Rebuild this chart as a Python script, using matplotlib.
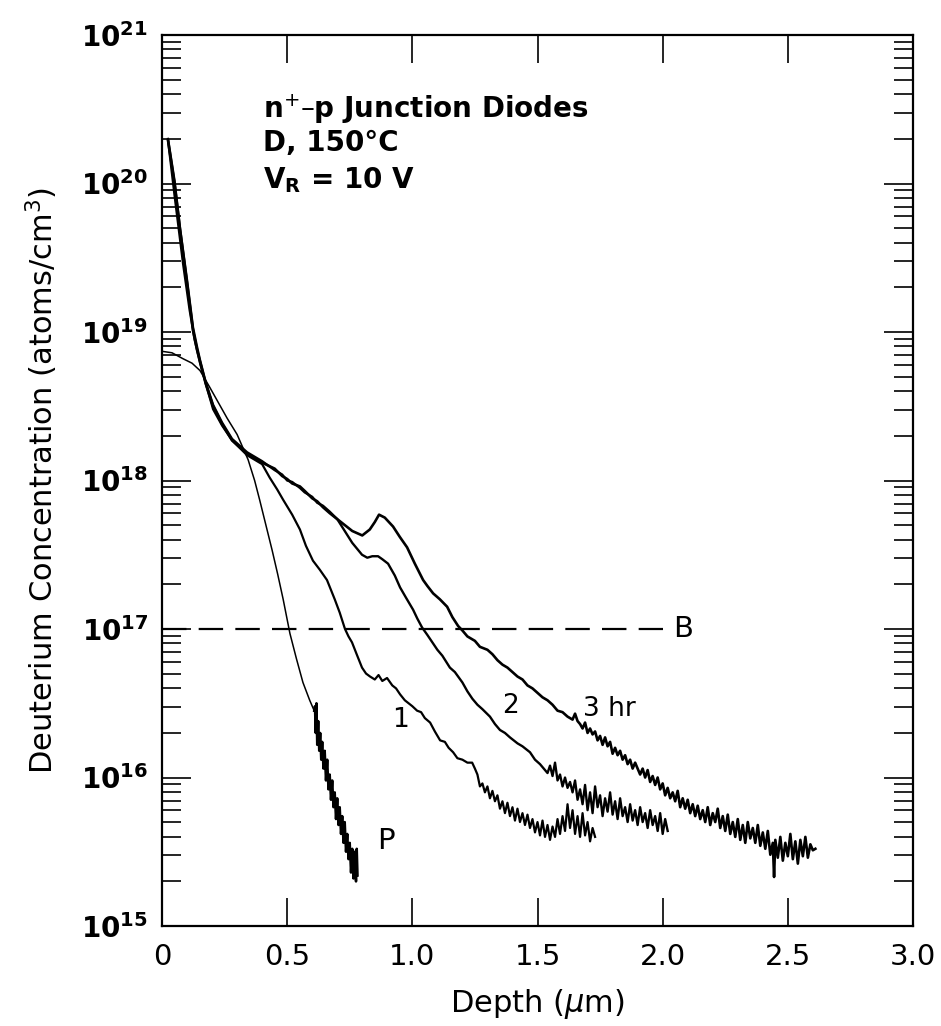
import numpy as np
import matplotlib
matplotlib.use("Agg")
import matplotlib.pyplot as plt
from matplotlib.ticker import FixedLocator, NullFormatter

# ---- data (depth in um, log10 of concentration in atoms/cm^3) ----
curve3 = [(0.024,20.29),(0.05,20.00),(0.072,19.69),(0.10,19.33),(0.124,19.01),(0.14,18.88),(0.152,18.80),
          (0.175,18.65),(0.204,18.50),(0.24,18.38),(0.28,18.27),(0.34,18.18),(0.40,18.12),(0.45,18.08),
          (0.48,18.03),(0.50,18.01),(0.52,17.98),(0.551,17.96),(0.57,17.93),(0.60,17.88),(0.62,17.86),
          (0.643,17.82),(0.67,17.78),(0.70,17.74),(0.73,17.70),(0.76,17.66),(0.80,17.63),(0.83,17.67),
          (0.85,17.72),(0.867,17.77),(0.89,17.75),(0.923,17.69),(0.95,17.62),(0.979,17.55),(1.01,17.44),
          (1.043,17.33),(1.06,17.29),(1.083,17.24),(1.11,17.20),(1.139,17.15),(1.16,17.08),(1.183,17.02),
          (1.20,16.99),(1.22,16.95),(1.25,16.92),(1.27,16.88),(1.30,16.86),(1.32,16.83),(1.34,16.79),
          (1.36,16.76),(1.38,16.74),(1.40,16.71),(1.42,16.68),(1.44,16.66),(1.46,16.62),(1.48,16.60),
          (1.50,16.57),(1.52,16.54),(1.54,16.52),(1.56,16.49),(1.58,16.45),(1.60,16.44),(1.62,16.41),
          (1.64,16.39),(1.65,16.43),(1.66,16.38),(1.67,16.36),(1.68,16.33),(1.69,16.37),(1.70,16.30),
          (1.71,16.33),(1.72,16.29),(1.73,16.31),(1.74,16.25),(1.75,16.28),(1.76,16.22),(1.77,16.27),
          (1.78,16.21),(1.79,16.24),(1.80,16.16),(1.81,16.20),(1.82,16.15),(1.83,16.18),(1.84,16.12),
          (1.85,16.15),(1.86,16.09),(1.87,16.12),(1.88,16.06),(1.89,16.10),(1.90,16.06),(1.91,16.02),
          (1.92,16.06),(1.93,16.00),(1.94,16.05),(1.95,15.97),(1.96,16.01),(1.97,15.95),(1.98,16.00),
          (1.99,15.92),(2.00,15.96),(2.01,15.88),(2.02,15.93),(2.03,15.86),(2.04,15.90),(2.05,15.84),
          (2.06,15.91),(2.07,15.80),(2.08,15.86),(2.09,15.79),(2.10,15.85),(2.11,15.76),(2.12,15.82),
          (2.13,15.74),(2.14,15.81),(2.15,15.72),(2.16,15.78),(2.17,15.70),(2.18,15.80),(2.19,15.68),
          (2.20,15.76),(2.21,15.70),(2.22,15.79),(2.23,15.66),(2.24,15.74),(2.25,15.64),(2.26,15.75),
          (2.27,15.62),(2.28,15.70),(2.29,15.60),(2.30,15.72),(2.31,15.58),(2.32,15.68),(2.33,15.56),
          (2.34,15.70),(2.35,15.59),(2.36,15.66),(2.37,15.56),(2.38,15.68),(2.39,15.54),(2.40,15.63),
          (2.41,15.52),(2.42,15.64),(2.43,15.48),(2.44,15.56),(2.445,15.33),(2.45,15.58),(2.46,15.46),
          (2.47,15.60),(2.48,15.44),(2.49,15.56),(2.50,15.47),(2.51,15.62),(2.52,15.45),(2.53,15.57),
          (2.54,15.42),(2.55,15.58),(2.56,15.47),(2.57,15.60),(2.58,15.46),(2.59,15.55),(2.60,15.51),
          (2.61,15.52)]

curve2 = [(0.024,20.30),(0.05,20.02),(0.072,19.70),(0.10,19.35),(0.124,19.03),(0.14,18.90),(0.152,18.81),
          (0.175,18.66),(0.204,18.51),(0.24,18.39),(0.28,18.28),(0.34,18.19),(0.40,18.13),(0.45,18.07),
          (0.48,18.04),(0.50,18.00),(0.52,17.99),(0.551,17.95),(0.57,17.92),(0.60,17.89),(0.62,17.85),
          (0.643,17.83),(0.67,17.79),(0.70,17.74),(0.73,17.66),(0.76,17.58),(0.799,17.50),(0.82,17.48),
          (0.84,17.49),(0.863,17.49),(0.88,17.47),(0.903,17.44),(0.93,17.36),(0.951,17.28),(0.975,17.21),
          (1.003,17.13),(1.02,17.07),(1.039,17.01),(1.06,16.96),(1.08,16.91),(1.10,16.86),(1.12,16.82),
          (1.15,16.74),(1.17,16.71),(1.20,16.64),(1.22,16.58),(1.24,16.53),(1.26,16.49),(1.28,16.46),
          (1.31,16.41),(1.33,16.36),(1.35,16.32),(1.37,16.30),(1.39,16.27),(1.42,16.23),(1.44,16.21),
          (1.47,16.17),(1.49,16.12),(1.51,16.09),(1.53,16.05),(1.54,16.03),(1.55,16.08),(1.56,16.01),
          (1.57,16.10),(1.58,15.98),(1.59,16.02),(1.60,15.94),(1.61,16.00),(1.62,15.93),(1.63,15.97),
          (1.64,15.90),(1.65,15.98),(1.66,15.85),(1.67,15.92),(1.68,15.82),(1.69,15.95),(1.70,15.78),
          (1.71,15.90),(1.72,15.76),(1.73,15.94),(1.74,15.80),(1.75,15.88),(1.76,15.74),(1.77,15.86),
          (1.78,15.77),(1.79,15.90),(1.80,15.75),(1.81,15.84),(1.82,15.72),(1.83,15.86),(1.84,15.74),
          (1.85,15.80),(1.86,15.70),(1.87,15.82),(1.88,15.71),(1.89,15.78),(1.90,15.68),(1.91,15.80),
          (1.92,15.70),(1.93,15.76),(1.94,15.66),(1.95,15.78),(1.96,15.68),(1.97,15.74),(1.98,15.64),
          (1.99,15.76),(2.00,15.62),(2.01,15.72),(2.02,15.64)]

curve1 = [(0.024,20.29),(0.05,19.92),(0.084,19.46),(0.11,19.15),(0.13,18.95),(0.152,18.79),(0.18,18.62),
          (0.204,18.48),(0.24,18.37),(0.28,18.27),(0.34,18.17),(0.40,18.11),(0.43,18.02),(0.46,17.94),
          (0.484,17.87),(0.52,17.77),(0.551,17.67),(0.575,17.56),(0.603,17.46),(0.63,17.40),(0.659,17.33),
          (0.69,17.20),(0.71,17.11),(0.731,17.00),(0.745,16.95),(0.759,16.91),(0.78,16.82),(0.799,16.74),
          (0.815,16.70),(0.831,16.68),(0.85,16.66),(0.865,16.69),(0.88,16.65),(0.899,16.67),(0.92,16.62),
          (0.935,16.60),(0.951,16.56),(0.97,16.52),(0.985,16.50),(1.0,16.48),(1.019,16.45),(1.035,16.44),
          (1.05,16.40),(1.071,16.37),(1.09,16.31),(1.111,16.25),(1.13,16.24),(1.145,16.20),(1.163,16.17),
          (1.18,16.13),(1.20,16.12),(1.22,16.10),(1.239,16.10),(1.25,16.06),(1.26,16.02),(1.27,15.94),
          (1.28,15.96),(1.29,15.90),(1.30,15.94),(1.31,15.86),(1.32,15.91),(1.33,15.84),(1.34,15.88),
          (1.35,15.79),(1.36,15.84),(1.37,15.76),(1.38,15.83),(1.39,15.74),(1.40,15.80),(1.41,15.71),
          (1.42,15.79),(1.43,15.70),(1.44,15.76),(1.45,15.68),(1.46,15.75),(1.47,15.66),(1.48,15.72),
          (1.49,15.63),(1.50,15.70),(1.51,15.61),(1.52,15.71),(1.53,15.60),(1.54,15.68),(1.55,15.58),
          (1.56,15.67),(1.57,15.60),(1.58,15.72),(1.59,15.62),(1.60,15.74),(1.61,15.64),(1.62,15.82),
          (1.63,15.66),(1.64,15.78),(1.65,15.62),(1.66,15.74),(1.67,15.60),(1.68,15.76),(1.69,15.61),
          (1.70,15.70),(1.71,15.57),(1.72,15.66),(1.73,15.60)]

curveP = [(0.0,18.87),(0.04,18.86),(0.084,18.82),(0.12,18.79),(0.152,18.74),(0.19,18.63),(0.22,18.54),
          (0.26,18.42),(0.30,18.31),(0.344,18.14),(0.37,18.00),(0.39,17.87),(0.415,17.70),(0.44,17.53),
          (0.462,17.37),(0.484,17.20),(0.511,16.97),(0.537,16.80),(0.563,16.64),(0.59,16.52),(0.608,16.45),
          (0.611,16.48),(0.614,16.30),(0.617,16.50),(0.620,16.22),(0.624,16.38),(0.628,16.18),(0.632,16.30),
          (0.636,16.12),(0.640,16.24),(0.645,16.06),(0.650,16.18),(0.655,15.98),(0.660,16.12),(0.665,15.92),
          (0.670,16.02),(0.675,15.85),(0.680,15.98),(0.685,15.80),(0.690,15.90),(0.695,15.72),(0.700,15.86),
          (0.705,15.68),(0.710,15.80),(0.715,15.62),(0.720,15.74),(0.725,15.56),(0.730,15.70),(0.735,15.50),
          (0.740,15.62),(0.745,15.45),(0.750,15.56),(0.755,15.36),(0.760,15.52),(0.765,15.32),(0.770,15.50),
          (0.775,15.30),(0.778,15.52),(0.781,15.34)]
P_smooth_points = 21  # number of leading points of curveP that form the smooth (thin) part

background_B = 1e17
background_B_end = 2.0

x_ticks = [0, 0.5, 1.0, 1.5, 2.0, 2.5, 3.0]
x_tick_labels = ["0", "0.5", "1.0", "1.5", "2.0", "2.5", "3.0"]
y_decades = [15, 16, 17, 18, 19, 20, 21]

curve_labels = ["1", "2", "3 hr", "P", "B"]

# ---- figure ----
plt.rcParams['font.family'] = ['DejaVu Sans']
plt.rcParams['mathtext.fontset'] = 'dejavusans'

fig = plt.figure(figsize=(9.41, 10.26), dpi=100)
ax = fig.add_axes([162/941, 1 - 926/1026, (913 - 162)/941, (926 - 35)/1026])

def unpack(c):
    xs = np.array([p[0] for p in c])
    ys = 10.0 ** np.array([p[1] for p in c])
    return xs, ys

for c, lw in [(curve3, 1.9), (curve2, 1.7), (curve1, 1.6)]:
    xs, ys = unpack(c)
    ax.plot(xs, ys, color='black', lw=lw, solid_joinstyle='round')
xs, ys = unpack(curveP)
ax.plot(xs[:P_smooth_points], ys[:P_smooth_points], color='black', lw=1.1)
ax.plot(xs[P_smooth_points - 1:], ys[P_smooth_points - 1:], color='black', lw=1.8)

ax.plot([0, background_B_end], [background_B, background_B], color='black', lw=1.6,
        dashes=(11, 5.5))

ax.set_yscale('log')
ax.set_xlim(0, 3.0)
ax.set_ylim(1e15, 1e21)

ax.set_xticks(x_ticks)
ax.set_xticklabels(x_tick_labels, fontsize=21)
ax.set_yticks([10.0 ** d for d in y_decades])
ax.set_yticklabels([r'$\mathbf{10^{%d}}$' % d for d in y_decades], fontsize=20)
ax.yaxis.set_minor_locator(FixedLocator([m * 10.0 ** d for d in y_decades[:-1] for m in range(2, 10)]))
ax.yaxis.set_minor_formatter(NullFormatter())

ax.tick_params(axis='x', which='major', direction='in', length=20, width=1.2, top=True, pad=12)
ax.tick_params(axis='y', which='major', direction='in', length=21, width=1.2, right=True, pad=10)
ax.tick_params(axis='y', which='minor', direction='in', length=14, width=1.2, right=True)
for s in ax.spines.values():
    s.set_linewidth(1.6)

ax.set_xlabel(r'Depth ($\mu$m)', fontsize=22, labelpad=12)
ax.set_ylabel(r'Deuterium Concentration (atoms/cm$^3$)', fontsize=22, labelpad=15)

# annotation
ax.text(0.405, 10 ** 20.50, r'n$^{+}$–p Junction Diodes', fontsize=20, fontweight='bold', va='center')
ax.text(0.405, 10 ** 20.27, 'D, 150°C', fontsize=20, fontweight='bold', va='center')
ax.text(0.405, 10 ** 20.02, r'V$_\mathbf{R}$ = 10 V', fontsize=20, fontweight='bold', va='center')

# curve labels
lab_pos = [(0.92, 16.39), (1.36, 16.48), (1.68, 16.46), (0.86, 15.57), (2.04, 17.0)]
for t, (lx, ly) in zip(curve_labels, lab_pos):
    fs = 21 if t in ("P", "B") else 19
    ax.text(lx, 10 ** ly, t, fontsize=fs, va='center', ha='left')

fig.savefig('out.png', dpi=100)
